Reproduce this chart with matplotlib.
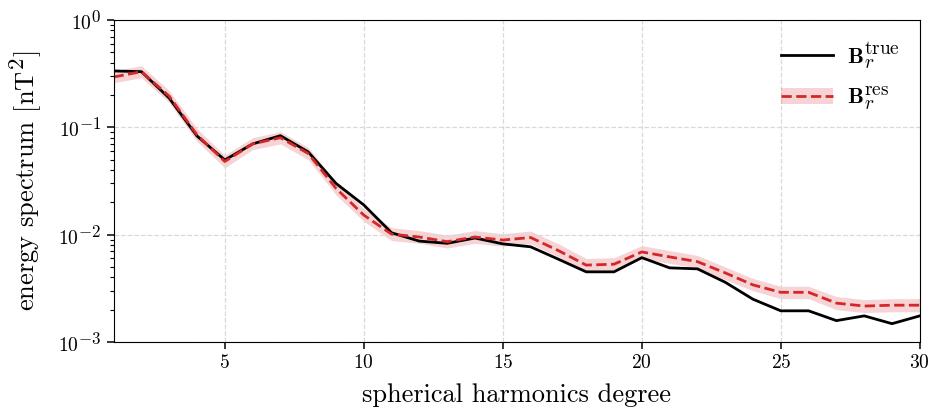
""" energy spectrum """
import matplotlib
matplotlib.use("Agg")
import matplotlib.pyplot as plt
import matplotlib._mathtext as mathtext_internal

degree = list(range(1, 31))
true_spec = [0.335, 0.33, 0.187, 0.083, 0.0496, 0.070, 0.0835, 0.059, 0.030, 0.0189,
             0.0104, 0.0087, 0.0083, 0.0093, 0.0082, 0.0077, 0.0059, 0.0045, 0.0045, 0.0061,
             0.0049, 0.0048, 0.0036, 0.0025, 0.00195, 0.00195, 0.00158, 0.00175, 0.00148, 0.00175]
res_spec = [0.294, 0.33, 0.195, 0.085, 0.048, 0.070, 0.080, 0.057, 0.027, 0.0152,
            0.0101, 0.0095, 0.0086, 0.0095, 0.0089, 0.0094, 0.0071, 0.0052, 0.0053, 0.0069,
            0.0062, 0.0056, 0.0044, 0.0034, 0.0029, 0.0029, 0.0023, 0.00216, 0.0022, 0.0022]
res_lo = [0.26, 0.29, 0.17, 0.074, 0.042, 0.062, 0.070, 0.050, 0.0235, 0.0133,
          0.0088, 0.0083, 0.0075, 0.0083, 0.0078, 0.0082, 0.0062, 0.0045, 0.0046, 0.0060,
          0.0054, 0.0049, 0.0038, 0.0030, 0.00253, 0.00253, 0.0020, 0.00188, 0.00191, 0.00191]
res_hi = [0.335, 0.375, 0.22, 0.097, 0.055, 0.080, 0.091, 0.065, 0.031, 0.0174,
          0.0116, 0.0109, 0.0099, 0.0109, 0.0102, 0.0108, 0.0082, 0.0060, 0.0061, 0.0079,
          0.0071, 0.0064, 0.0050, 0.0039, 0.0033, 0.0033, 0.00265, 0.00248, 0.00253, 0.00253]

plt.rcParams["font.family"] = "cmr10"
plt.rcParams["mathtext.fontset"] = "cm"
plt.rcParams["axes.formatter.use_mathtext"] = True
# larger superscripts, closer to the LaTeX look of the original
mathtext_internal.SHRINK_FACTOR = 0.87


def main():
    """ function """
    red = "#d62728"
    fig, ax = plt.subplots(figsize=(9.31, 4.16), dpi=100)
    ax.fill_between(degree, res_lo, res_hi, color=red, alpha=0.2, linewidth=0)
    ax.plot(degree, true_spec, color="black", linewidth=2, label=r"$\mathbf{B}_r^{\mathrm{true}}$")
    ax.plot(degree, res_spec, color=red, linestyle="--", linewidth=2, label=r"$\mathbf{B}_r^{\mathrm{res}}$")
    ax.set_yscale("log")
    ax.set_ylim(1e-3, 1)
    ax.set_xlim(1, 30)
    ax.set_xticks([5, 10, 15, 20, 25, 30])
    ax.grid(True, which="major", linestyle="--", color="#d9d9d9", linewidth=0.9)
    ax.tick_params(which="major", labelsize=14, length=5, width=1.1)
    ax.tick_params(which="minor", length=3, width=0.8)
    ax.set_xlabel("spherical harmonics degree", fontsize=19, labelpad=8)
    ax.set_ylabel(r"energy spectrum [nT$^2$]", fontsize=19, labelpad=10)
    h, l = ax.get_legend_handles_labels()
    band = plt.Rectangle((0, 0), 1, 1, color=red, alpha=0.2, linewidth=0)
    handles = [h[0], (band, h[1])]
    ax.legend(handles, l, loc="upper right", frameon=False, fontsize=16, handlelength=2.3,
              handletextpad=0.65, labelspacing=0.6)
    fig.subplots_adjust(left=0.122, right=0.988, top=0.952, bottom=0.178)
    fig.savefig("out.png", dpi=100)


main()
